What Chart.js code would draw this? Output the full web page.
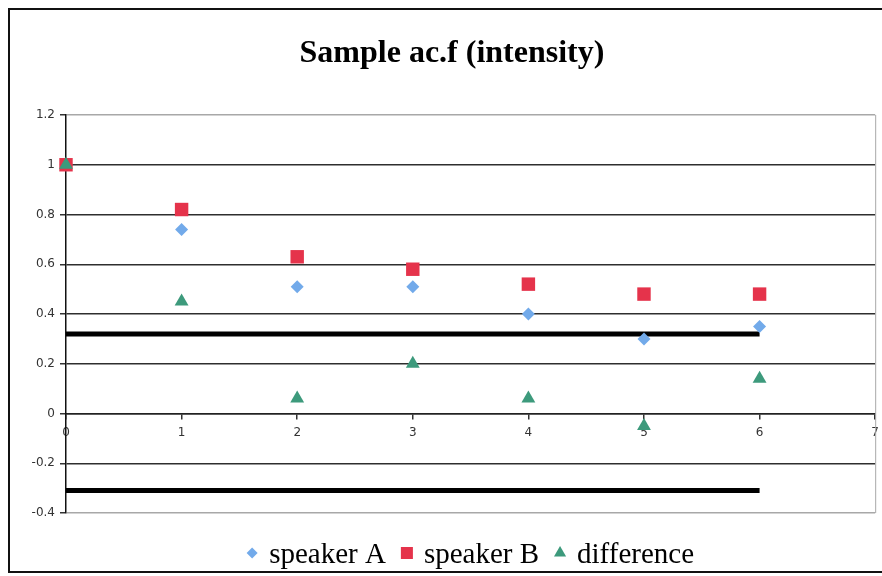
<!DOCTYPE html>
<html>
<head>
<meta charset="utf-8">
<title>Sample ac.f (intensity)</title>
<script src="https://cdn.jsdelivr.net/npm/chart.js@4.4.0/dist/chart.umd.min.js"></script>
<style>
  html, body { margin: 0; padding: 0; background: #fff; overflow: hidden; }
  #wrap { width: 882px; height: 576px; overflow: hidden; }
</style>
</head>
<body>
<div id="wrap"><canvas id="acf" width="886" height="576"></canvas></div>
<script>
// autocorrelation of intensity by lag
const lags = [0, 1, 2, 3, 4, 5, 6];
const speakerA = [1.0, 0.74, 0.51, 0.51, 0.40, 0.30, 0.35];
const speakerB = [1.0, 0.82, 0.63, 0.58, 0.52, 0.48, 0.48];
const difference = [1.0, 0.45, 0.06, 0.20, 0.06, -0.05, 0.14];

// significance bounds, lag 0 to lag 6
const boundLags = [0, 6];
const upperBound = 0.32;
const lowerBound = -0.31;

const seriesNames = ['speaker A', 'speaker B', 'difference'];
const chartTitle = 'Sample ac.f (intensity)';

const BLUE = '#72aaea';
const RED = '#e5334b';
const GREEN = '#3d9a7c';

function points(values) {
  return lags.map((x, i) => ({ x: x, y: values[i] }));
}
function bound(y) {
  return boundLags.map(x => ({ x: x, y: y }));
}

// white page + black frame
const framePlugin = {
  id: 'frame',
  beforeDraw(chart) {
    const ctx = chart.ctx;
    ctx.save();
    ctx.fillStyle = '#fff';
    ctx.fillRect(0, 0, chart.width, chart.height);
    ctx.strokeStyle = '#111';
    ctx.lineWidth = 2;
    ctx.strokeRect(9, 9, 900, 563);
    ctx.restore();
  },
  beforeDatasetsDraw(chart) {
    // light grey right edge of the plot area
    const { ctx, chartArea } = chart;
    ctx.save();
    ctx.strokeStyle = '#a8a8a8';
    ctx.lineWidth = 1;
    ctx.beginPath();
    ctx.moveTo(chartArea.right + 0.5, chartArea.top);
    ctx.lineTo(chartArea.right + 0.5, chartArea.bottom);
    ctx.stroke();
    ctx.restore();
  }
};

// title and legend drawn in serif, as in the spreadsheet export
const captionPlugin = {
  id: 'caption',
  afterDraw(chart) {
    const ctx = chart.ctx;
    ctx.save();
    ctx.fillStyle = '#000';
    ctx.textBaseline = 'alphabetic';
    ctx.textAlign = 'center';
    ctx.font = 'bold 32px "Liberation Serif", "DejaVu Serif", serif';
    ctx.fillText(chartTitle, 452, 62);

    ctx.font = '29px "Liberation Serif", "DejaVu Serif", serif';
    ctx.textAlign = 'left';
    const items = chart.data.datasets.filter(d => seriesNames.includes(d.label));
    const widths = items.map(d => ctx.measureText(d.label).width);
    const total = 5 + widths.reduce((s, w) => s + 17 + w, 0) + 21 * (items.length - 1);
    let x = (chart.chartArea.left + chart.chartArea.right) / 2 - total / 2 + 5;
    items.forEach((d, i) => {
      ctx.fillStyle = d.backgroundColor;
      Chart.helpers.drawPoint(ctx, {
        pointStyle: d.pointStyle,
        radius: d.legendRadius,
        rotation: 0,
        borderWidth: 0
      }, x, 553);
      ctx.fillStyle = '#000';
      ctx.fillText(d.label, x + 17, 563);
      x += 17 + widths[i] + 21;
    });
    ctx.restore();
  }
};

const tickFont = { family: '"DejaVu Sans", Verdana, sans-serif', size: 12 };

new Chart(document.getElementById('acf'), {
  type: 'scatter',
  data: {
    datasets: [
      {
        label: seriesNames[0],
        data: points(speakerA),
        pointStyle: 'rectRot',
        pointRadius: 6.5,
        legendRadius: 5.5,
        backgroundColor: BLUE,
        borderWidth: 0,
        clip: false,
        order: 3
      },
      {
        label: seriesNames[1],
        data: points(speakerB),
        pointStyle: 'rect',
        pointRadius: 9.5,
        legendRadius: 8.5,
        backgroundColor: RED,
        borderWidth: 0,
        clip: false,
        order: 2
      },
      {
        label: seriesNames[2],
        data: points(difference),
        pointStyle: 'triangle',
        pointRadius: 8,
        legendRadius: 7,
        backgroundColor: GREEN,
        borderWidth: 0,
        clip: false,
        order: 1
      },
      {
        label: 'upper bound',
        type: 'line',
        data: bound(upperBound),
        borderColor: '#000',
        borderWidth: 5,
        pointRadius: 0,
        order: 5
      },
      {
        label: 'lower bound',
        type: 'line',
        data: bound(lowerBound),
        borderColor: '#000',
        borderWidth: 5,
        pointRadius: 0,
        order: 5
      }
    ]
  },
  options: {
    responsive: false,
    animation: false,
    devicePixelRatio: 1,
    layout: { padding: { left: 8, right: 7, top: 115, bottom: 63 } },
    plugins: {
      legend: { display: false },
      title: { display: false },
      tooltip: { enabled: false }
    },
    scales: {
      x: {
        type: 'linear',
        position: { y: 0 },
        min: 0,
        max: 7,
        ticks: { stepSize: 1, font: tickFont, color: '#333', padding: 7 },
        grid: { drawOnChartArea: false, drawTicks: true, tickLength: 5, color: '#333', lineWidth: 1.5 },
        border: { color: '#222', width: 1.5 }
      },
      y: {
        min: -0.4,
        max: 1.2,
        afterFit(scale) { scale.width = 58; },
        ticks: {
          stepSize: 0.2,
          font: tickFont,
          color: '#333',
          padding: 5,
          callback: v => String(+v.toFixed(1))
        },
        grid: {
          color: ctx => (ctx.tick && (ctx.tick.value > 1.19 || ctx.tick.value < -0.39)) ? '#a8a8a8' : '#2e2e2e',
          tickColor: '#333',
          lineWidth: 1.5,
          tickLength: 6
        },
        border: { color: '#111', width: 1.5 }
      }
    }
  },
  plugins: [framePlugin, captionPlugin]
});
</script>
</body>
</html>
